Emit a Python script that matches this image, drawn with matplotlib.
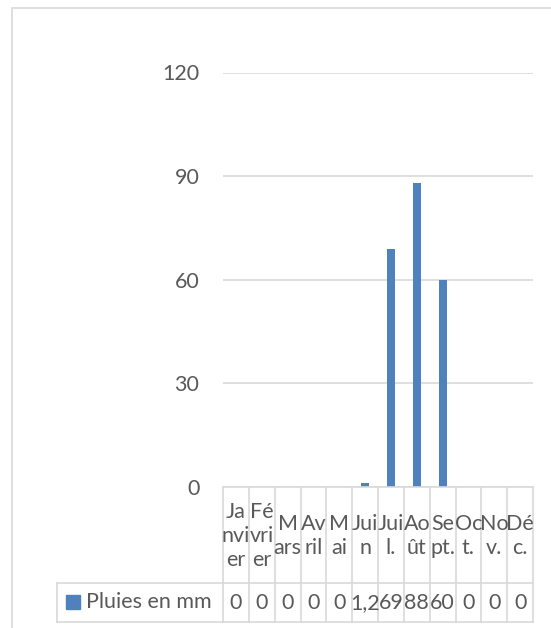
import matplotlib.pyplot as plt
from matplotlib.lines import Line2D
from matplotlib.patches import Rectangle

plt.rcParams['font.family'] = ['Lato', 'DejaVu Sans']

# categories as they appear (wrapped) in the data table
mois = ["Ja\nnvi\ner", "Fé\nvri\ner", "M\nars", "Av\nril", "M\nai", "Jui\nn",
        "Jui\nl.", "Ao\nût", "Se\npt.", "Oc\nt.", "No\nv.", "Dé\nc."]
pluies = [0, 0, 0, 0, 0, 1.2, 69, 88, 60, 0, 0, 0]
pluies_txt = ["0", "0", "0", "0", "0", "1,2", "69", "88", "60", "0", "0", "0"]
serie = "Pluies en mm"
yticks = [0, 30, 60, 90, 120]

W, H = 551, 628
bleu = '#4f81bd'
gris = '#d9d9d9'
texte = '#595959'
fs = 15.5

fig = plt.figure(figsize=(W / 100, H / 100), dpi=100)


def box(x0, y0, x1, y1):
    # pixel box (top-left origin) -> figure fraction rect
    return [x0 / W, 1 - y1 / H, (x1 - x0) / W, (y1 - y0) / H]


def fx(px):
    return px / W


def fy(py):
    return 1 - py / H


# chart frame
fig.patches.append(Rectangle((fx(12), fy(H + 10)), fx(W), fy(8) - fy(H + 10),
                             transform=fig.transFigure, fill=False,
                             edgecolor=gris, lw=1.2))

ax = fig.add_axes(box(223, 72.5, 533, 487))
x = list(range(len(mois)))
ax.bar(x, pluies, width=0.31, color=bleu, zorder=3)
ax.set_xlim(-0.5, len(mois) - 0.5)
ax.set_ylim(0, 120)
ax.set_yticks(yticks)
ax.yaxis.grid(True, color=gris, lw=1.2)
ax.set_axisbelow(True)
ax.tick_params(axis='y', length=0, pad=17, labelsize=fs, labelcolor=texte)
ax.set_xticks([])
for s in ax.spines.values():
    s.set_visible(False)

# data table under the chart
tab = fig.add_axes(box(223, 487, 533, 622))
tab.set_xlim(-0.5, len(mois) - 0.5)
tab.set_ylim(135, 0)
tab.axis('off')
for i in range(len(mois) + 1):
    tab.plot([i - 0.5, i - 0.5], [0, 135], color=gris, lw=1.2, clip_on=False)
for yy in [0, 96, 135]:
    tab.plot([-0.5, len(mois) - 0.5], [yy, yy], color=gris, lw=1.2, clip_on=False)
for i, (m, v) in enumerate(zip(mois, pluies_txt)):
    tab.text(i, 49, m, ha='center', va='center', fontsize=fs, color=texte,
             linespacing=1.25)
    tab.text(i, 116, v, ha='center', va='center', fontsize=fs, color=texte)

# legend cell
for yy in [583, 622]:
    fig.lines.append(Line2D([fx(57), fx(223)], [fy(yy), fy(yy)],
                            transform=fig.transFigure, color=gris, lw=1.2))
fig.lines.append(Line2D([fx(57), fx(57)], [fy(583), fy(622)],
                        transform=fig.transFigure, color=gris, lw=1.2))
fig.patches.append(Rectangle((fx(66), fy(609)), fx(14), fy(595) - fy(609),
                             transform=fig.transFigure, color=bleu))
fig.text(fx(86), fy(602), serie, ha='left', va='center', fontsize=fs, color=texte)

fig.savefig('out.png', dpi=100)
